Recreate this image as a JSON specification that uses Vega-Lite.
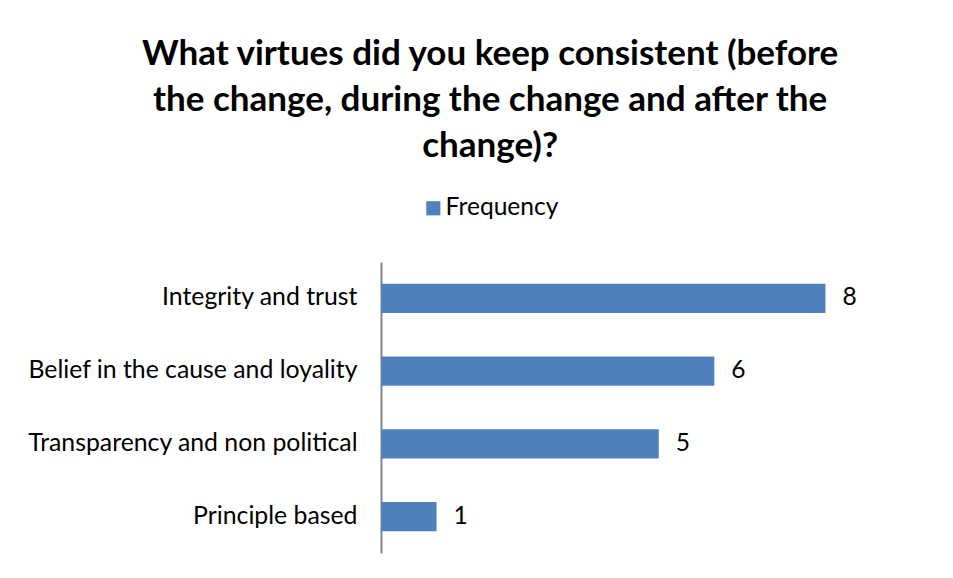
{
  "$schema": "https://vega.github.io/schema/vega-lite/v6.json",
  "width": 500,
  "height": 291,
  "autosize": {"type": "none"},
  "padding": {"left": 381, "top": 262, "right": 72, "bottom": 25},
  "background": "white",
  "title": {
    "text": ["What virtues did you keep consistent (before", "the change, during the change and after the", "change)?"],
    "font": "Lato",
    "fontSize": 35,
    "fontWeight": "bold",
    "color": "#000000",
    "lineHeight": 46,
    "anchor": "middle",
    "frame": "bounds",
    "dx": 36,
    "offset": 32
  },
  "data": {
    "values": [
      {"virtue": "Integrity and trust", "frequency": 8, "series": "Frequency"},
      {"virtue": "Belief in the cause and loyality", "frequency": 6, "series": "Frequency"},
      {"virtue": "Transparency and non political", "frequency": 5, "series": "Frequency"},
      {"virtue": "Principle based", "frequency": 1, "series": "Frequency"}
    ]
  },
  "encoding": {
    "y": {
      "field": "virtue",
      "type": "nominal",
      "sort": null,
      "scale": {"paddingInner": 0.6, "paddingOuter": 0.3},
      "axis": {
        "title": null,
        "ticks": false,
        "domainColor": "#868686",
        "domainWidth": 2,
        "labelFont": "Lato",
        "labelFontSize": 24.8,
        "labelColor": "#000000",
        "labelPadding": 24,
        "labelLimit": 400
      }
    },
    "x": {
      "field": "frequency",
      "type": "quantitative",
      "scale": {"domain": [0, 9]},
      "axis": null
    }
  },
  "layer": [
    {
      "mark": {"type": "bar", "color": "#4f81bd"},
      "encoding": {
        "color": {
          "field": "series",
          "type": "nominal",
          "scale": {"range": ["#4f81bd"]},
          "legend": {
            "title": null,
            "orient": "none",
            "legendX": 40,
            "legendY": -66,
            "symbolType": "square",
            "symbolSize": 200,
            "labelFont": "Lato",
            "labelFontSize": 24.6,
            "labelColor": "#000000",
            "labelOffset": 0
          }
        }
      }
    },
    {
      "mark": {"type": "text", "align": "left", "dx": 17, "font": "Lato", "fontSize": 24.6, "color": "#000000"},
      "encoding": {"text": {"field": "frequency", "type": "quantitative"}}
    }
  ],
  "config": {"view": {"stroke": null}, "axis": {"grid": false}}
}
